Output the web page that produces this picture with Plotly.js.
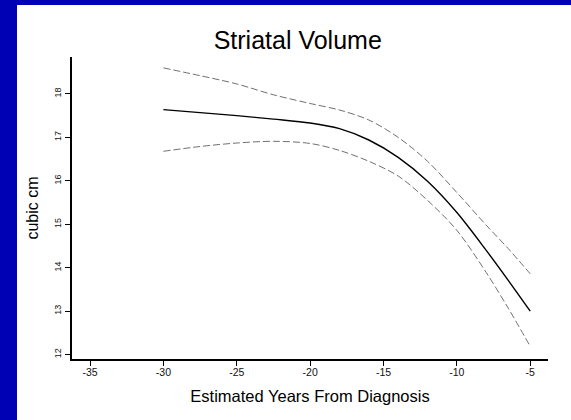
<!DOCTYPE html>
<html>
<head>
<meta charset="utf-8">
<script src="https://cdn.plot.ly/plotly-3.0.1.min.js"></script>
<style>
  html, body { margin: 0; padding: 0; background: #0000b4; width: 571px; height: 420px; overflow: hidden; }
  #chart { position: absolute; left: 17px; top: 5px; width: 554px; height: 415px; background: #fff; }
</style>
</head>
<body>
<div id="chart"></div>
<script>
// Estimated years from diagnosis
const years = [-30, -27.5, -25, -22.5, -20, -18, -16, -14, -12, -10, -8, -6.5, -5];
// Fitted striatal volume (cubic cm)
const fitVolume = [17.64, 17.57, 17.50, 17.42, 17.33, 17.20, 16.94, 16.54, 15.99, 15.27, 14.40, 13.71, 13.00];
// Upper confidence band
const upperBand = [18.60, 18.42, 18.23, 17.98, 17.78, 17.63, 17.40, 17.00, 16.45, 15.73, 14.98, 14.44, 13.86];
// Lower confidence band
const lowerBand = [16.68, 16.79, 16.87, 16.91, 16.86, 16.70, 16.45, 16.11, 15.55, 14.86, 13.89, 13.07, 12.19];

const xTicks = [-35, -30, -25, -20, -15, -10, -5];
const yTicks = [12, 13, 14, 15, 16, 17, 18];

const FONT = 'Arial, "Liberation Sans", sans-serif';

const bandLine = { color: '#707070', width: 1, dash: '7px,3px', shape: 'spline', smoothing: 0.9 };
const traces = [
  { x: years, y: upperBand, mode: 'lines', line: bandLine, hoverinfo: 'skip', showlegend: false },
  { x: years, y: lowerBand, mode: 'lines', line: bandLine, hoverinfo: 'skip', showlegend: false },
  { x: years, y: fitVolume, mode: 'lines', line: { color: '#000', width: 1.4, shape: 'spline', smoothing: 0.9 }, showlegend: false }
];

const layout = {
  width: 554, height: 415,
  paper_bgcolor: '#fff', plot_bgcolor: '#fff',
  margin: { l: 55, r: 23, t: 52, b: 60.5 },
  font: { family: FONT, color: '#000' },
  title: { text: 'Striatal Volume', font: { family: FONT, size: 25, color: '#000' }, x: 0.5067, xanchor: 'center', xref: 'container', y: 0.916, yanchor: 'middle', yref: 'container' },
  xaxis: {
    range: [-36.23, -3.79], tickvals: xTicks, ticktext: xTicks.map(String),
    showgrid: false, zeroline: false, showline: true, linecolor: '#000', linewidth: 2,
    ticks: 'outside', ticklen: 5, tickwidth: 1, tickcolor: '#000', ticklabelstandoff: -3,
    tickfont: { family: FONT, size: 10.5, color: '#111' },
    title: { text: 'Estimated Years From Diagnosis', font: { family: FONT, size: 16.5, color: '#000' }, standoff: 14 }
  },
  yaxis: {
    range: [11.9, 18.85], tickvals: yTicks, ticktext: yTicks.map(String),
    showgrid: false, zeroline: false, showline: true, linecolor: '#000', linewidth: 2,
    ticks: 'outside', ticklen: 5, tickwidth: 1, tickcolor: '#000', tickangle: -90,
    tickfont: { family: FONT, size: 9, color: '#111' },
    title: { text: 'cubic cm', font: { family: FONT, size: 16, color: '#000' }, standoff: 11 }
  }
};

Plotly.newPlot('chart', traces, layout, { staticPlot: true, displayModeBar: false });
</script>
</body>
</html>
